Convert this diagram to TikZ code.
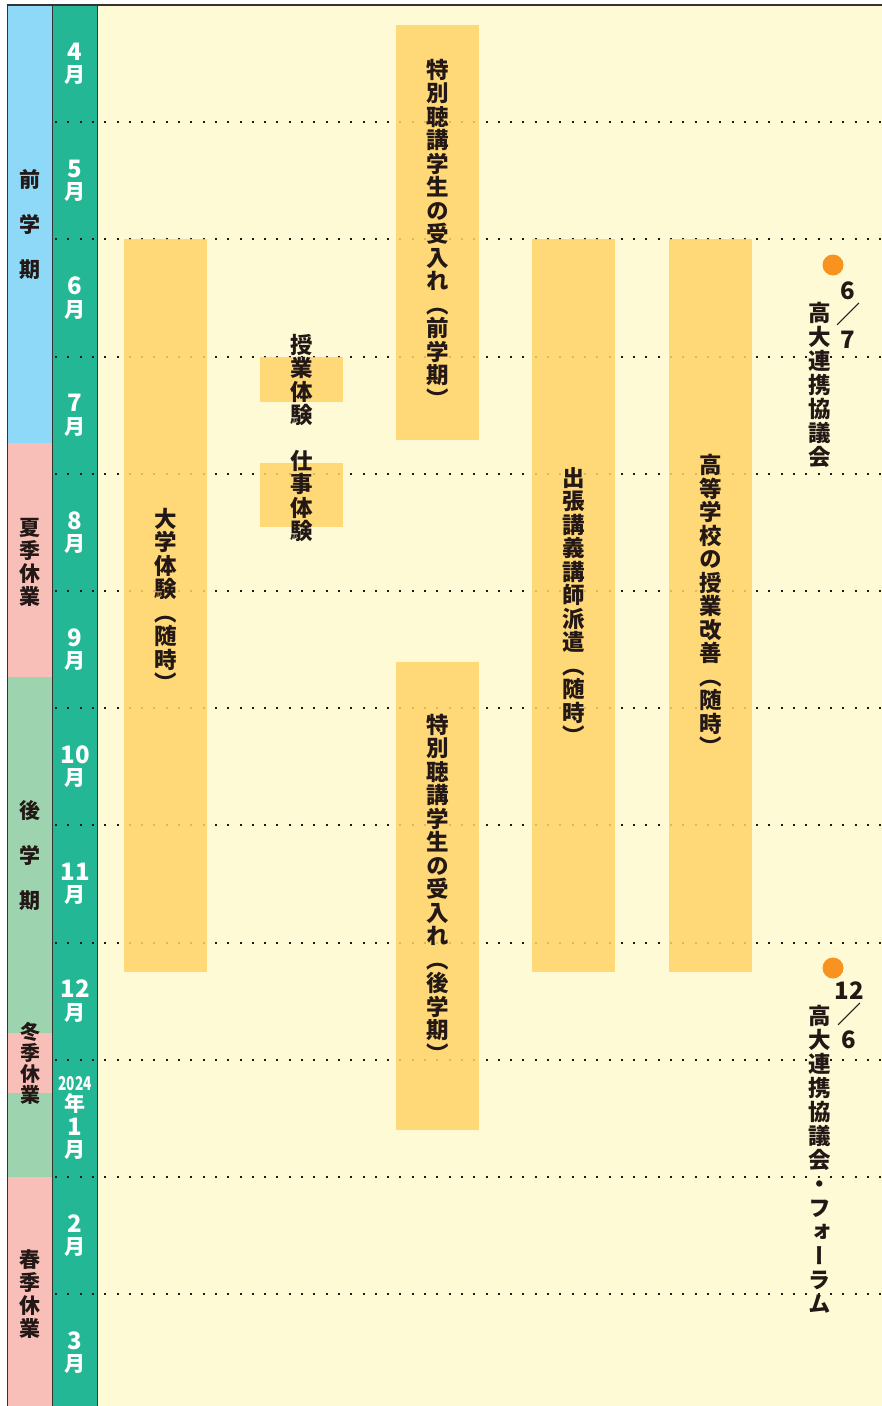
\documentclass[tikz,border=0pt]{standalone}
\usepackage{fontspec}
\usepackage{graphicx}
\setmainfont{Noto Sans CJK JP}
\newfontfamily\jpv{Noto Sans CJK JP}[RawFeature=+vert]
\definecolor{cream}{HTML}{FFFAD6}
\definecolor{teal}{HTML}{23B795}
\definecolor{sky}{HTML}{8ED8F8}
\definecolor{rose}{HTML}{F8BEB8}
\definecolor{mint}{HTML}{9DD3AE}
\definecolor{barc}{HTML}{FFD468}
\definecolor{dotc}{HTML}{F7931E}
\definecolor{ink}{HTML}{231815}
\definecolor{frame}{HTML}{333333}
\newcommand\vt[2][23.5pt]{\vbox{\setlength\baselineskip{#1}\setlength\lineskip{0pt}\setlength\lineskiplimit{-100pt}\vtloop#2\relax}}
\def\vtloop#1{\ifx\relax#1\else\hbox to 1em{\hss#1\hss}\expandafter\vtloop\fi}
\newcommand\dg[1]{{\fontsize{24}{24}\selectfont #1}}
\begin{document}
\begin{tikzpicture}[x=1pt,y=-1pt,
  vtext/.style={inner sep=0pt, text=ink, font=\jpv\bfseries\fontsize{22.5}{23.5}\selectfont},
  semtext/.style={inner sep=0pt, text=ink, font=\jpv\bfseries\fontsize{21}{23}\selectfont},
  mtext/.style={inner sep=0pt, text=white, align=center, font=\bfseries\fontsize{21}{22.5}\selectfont},
  datetext/.style={inner sep=0pt, text=ink, align=center, font=\bfseries\fontsize{24}{24.5}\selectfont},
  barbox/.style={fill=barc, fill opacity=0.85},
  dotline/.style={draw=ink, line width=2pt, dash pattern=on 2pt off 10.3pt},
  framel/.style={draw=frame, line width=1.8pt}]
\useasboundingbox (0,0) rectangle (882,1406);
\fill[white] (0,0) rectangle (882,1406);
\fill[cream] (97.5,5) rectangle (882,1406);
\fill[teal] (52.5,5) rectangle (97.5,1406);
\fill[sky] (7.5,5) rectangle (52.5,442.7);
\fill[rose] (7.5,442.7) rectangle (52.5,676.7);
\fill[mint] (7.5,676.7) rectangle (52.5,1033);
\fill[rose] (7.5,1033) rectangle (52.5,1093);
\fill[mint] (7.5,1093) rectangle (52.5,1176.5);
\fill[rose] (7.5,1176.5) rectangle (52.5,1406);
% dotted month lines
\foreach \k in {1,...,11} \draw[dotline] (55,{5+117.2*\k}) -- (882,{5+117.2*\k});
% frame
\draw[framel] (7.5,1406) -- (7.5,5) -- (882,5);
\draw[framel] (52.5,5) -- (52.5,1406);
\draw[framel] (97.5,5) -- (97.5,1406);
% bars
\fill[barbox] (124,239) rectangle (207,972);
\fill[barbox] (260,357) rectangle (343,402);
\fill[barbox] (260,463) rectangle (343,527);
\fill[barbox] (396,25) rectangle (479,440);
\fill[barbox] (396,662) rectangle (479,1130);
\fill[barbox] (532,239) rectangle (615,972);
\fill[barbox] (669,239) rectangle (752,972);
% bar texts
\node[vtext] (t1) at (165.5,600) {\vt{大学体験（随時）}};
\node[vtext] (t2) at (301.5,380) {\vt{授業体験}};
\node[vtext] (t3) at (301.5,496) {\vt{仕事体験}};
\node[vtext] (t4) at (437.5,233) {\vt{特別聴講学生の受入れ（前学期）}};
\node[vtext] (t5) at (437.5,888) {\vt{特別聴講学生の受入れ（後学期）}};
\node[vtext] (t6) at (573.5,606) {\vt{出張講義講師派遣（随時）}};
\node[vtext] (t7) at (710.5,605) {\vt{高等学校の授業改善（随時）}};
% events
\fill[dotc] (833,265) circle (10.5);
\fill[dotc] (833,968) circle (10.5);
\node[datetext] (d1) at (848,315) {6\\／\\7};
\node[datetext] (d2) at (849,1015) {12\\／\\6};
\node[vtext] (e1) at (820,385) {\vt[24pt]{高大連携協議会}};
\node[vtext] (e2) at (820,1159) {\vt[24pt]{高大連携協議会・フォーラム}};
% semesters
\node[semtext] (s1) at (30,225) {\vt[45pt]{前学期}};
\node[semtext] (s2) at (30,562) {\vt[23pt]{夏季休業}};
\node[semtext] (s3) at (30,855) {\vt[45pt]{後学期}};
\node[semtext,font=\jpv\bfseries\fontsize{20}{21}\selectfont] (s4) at (30,1063) {\vt[21pt]{冬季休業}};
\node[semtext] (s5) at (30,1294) {\vt[23pt]{春季休業}};
% months
\foreach \m/\k in {4/0,5/1,6/2,7/3,8/4,9/5,10/6,11/7,12/8,2/10,3/11}
  \node[mtext] (m\m) at (75,{5+117.2*\k+58.6}) {\dg{\m}\\月};
\node[mtext] (m1) at (75,1118) {\scalebox{0.72}[1]{\fontsize{19}{19}\selectfont 2024}\\[-1pt]年\\[1pt]\dg{1}\\月};
\end{tikzpicture}
\end{document}
